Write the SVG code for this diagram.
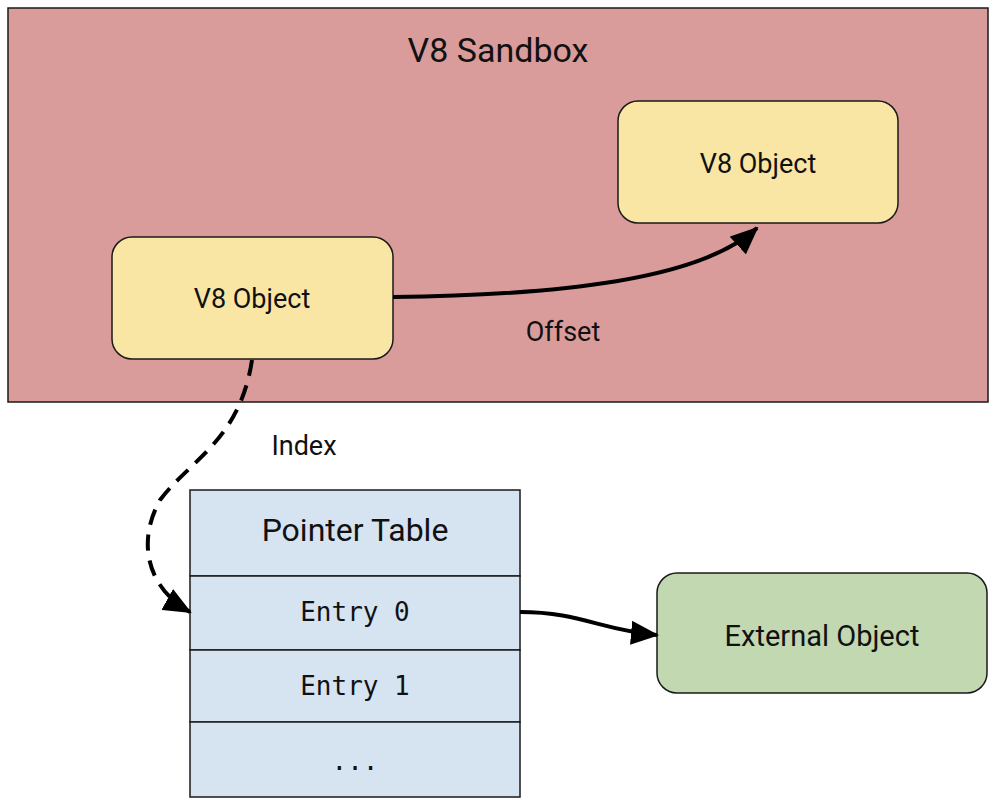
<svg xmlns="http://www.w3.org/2000/svg" width="997" height="806" viewBox="0 0 997 806">
<style>
.s{stroke:#1a1a1a;stroke-width:1.5}
.t{font-family:Roboto,"Liberation Sans",sans-serif;fill:#111;text-anchor:middle}
.m{font-family:"DejaVu Sans Mono","Liberation Mono",monospace;fill:#111;text-anchor:middle;font-size:26px}
.c{fill:none;stroke:#000;stroke-width:4}
</style>
<defs><marker id="a" viewBox="0 0 10 10" refX="8" refY="5" markerWidth="5" markerHeight="5" orient="auto" markerUnits="userSpaceOnUse" style="overflow:visible"><path d="M0,0 L10,5 L0,10 z" fill="#000" transform="scale(2.8) translate(-4,-5) translate(4,5)"/></marker>
<marker id="b" viewBox="0 0 28 24" refX="26" refY="12" markerWidth="28" markerHeight="24" orient="auto" markerUnits="userSpaceOnUse"><path d="M0,0 L28,12 L0,24 z" fill="#000"/></marker></defs>
<g id="sandbox"><rect x="8" y="8" width="980" height="394" fill="#d99c9b" class="s"/><text x="498" y="62" class="t" font-size="34">V8 Sandbox</text></g>
<g id="obj1"><rect x="618" y="101" width="280" height="122" rx="20" fill="#f9e6a4" class="s"/><text x="758" y="173" class="t" font-size="27">V8 Object</text></g>
<g id="obj2"><rect x="112" y="237" width="281" height="122" rx="20" fill="#f9e6a4" class="s"/><text x="252" y="308" class="t" font-size="27">V8 Object</text></g>
<g id="table">
<rect x="190" y="490" width="330" height="86" fill="#d6e3f1" class="s"/><text x="355" y="541" class="t" font-size="32">Pointer Table</text>
<rect x="190" y="576" width="330" height="74" fill="#d6e3f1" class="s"/><text x="355" y="621" class="m">Entry 0</text>
<rect x="190" y="650" width="330" height="72" fill="#d6e3f1" class="s"/><text x="355" y="695" class="m">Entry 1</text>
<rect x="190" y="722" width="330" height="75" fill="#d6e3f1" class="s"/><text x="355" y="770" class="m">...</text>
</g>
<g id="ext"><rect x="657" y="573" width="330" height="120" rx="20" fill="#c1d8b1" class="s"/><text x="822" y="646" class="t" font-size="29">External Object</text></g>
<g id="connectors">
<path d="M393,297 C560,295 700,280 757,228" class="c" marker-end="url(#b)"/>
<text x="563" y="341" class="t" font-size="27">Offset</text>
<path d="M252,360 C240,440 190,460 160,500 C135,545 150,590 190,612" class="c" stroke-dasharray="16,10" marker-end="url(#b)"/>
<text x="304" y="455" class="t" font-size="27">Index</text>
<path d="M520,612 C580,612 600,630 657,635" class="c" marker-end="url(#b)"/>
</g>
</svg>
